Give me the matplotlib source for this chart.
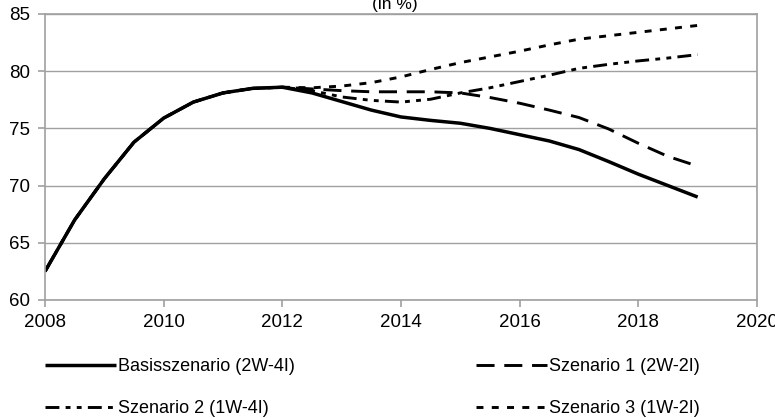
import matplotlib
matplotlib.use("Agg")
import matplotlib.pyplot as plt

plt.rcParams['font.family'] = ['Liberation Sans', 'DejaVu Sans']
plt.rcParams['lines.scale_dashes'] = False

# Daten (in %), halbjaehrlich
jahre = [2008.0, 2008.5, 2009.0, 2009.5, 2010.0, 2010.5, 2011.0, 2011.5,
         2012.0, 2012.5, 2013.0, 2013.5, 2014.0, 2014.5, 2015.0, 2015.5,
         2016.0, 2016.5, 2017.0, 2017.5, 2018.0, 2018.5, 2019.0]
gemeinsam = [62.5, 67.0, 70.6, 73.8, 75.9, 77.3, 78.1, 78.5, 78.6]
basis = gemeinsam + [78.1, 77.35, 76.6, 76.0, 75.7, 75.45, 75.0,
                     74.45, 73.9, 73.15, 72.1, 71.0, 70.0, 69.0]
szenario1 = gemeinsam + [78.45, 78.3, 78.2, 78.2, 78.2, 78.1, 77.7,
                         77.2, 76.6, 75.95, 74.95, 73.7, 72.55, 71.7]
szenario2 = gemeinsam + [78.3, 77.75, 77.45, 77.3, 77.55, 78.1, 78.55,
                         79.1, 79.65, 80.25, 80.6, 80.9, 81.15, 81.45]
szenario3 = gemeinsam + [78.55, 78.7, 79.0, 79.5, 80.15, 80.75, 81.25,
                         81.75, 82.3, 82.8, 83.1, 83.4, 83.7, 84.0]

namen = ["Basisszenario (2W-4I)", "Szenario 1 (2W-2I)",
         "Szenario 2 (1W-4I)", "Szenario 3 (1W-2I)"]

titel = "(in %)"
x_ticks = [2008, 2010, 2012, 2014, 2016, 2018, 2020]
y_ticks = [60, 65, 70, 75, 80, 85]

fig = plt.figure(figsize=(7.75, 4.18), dpi=100)
ax = fig.add_axes([45 / 775, 1 - 300 / 418, 712 / 775, 286 / 418])

grau = '#a0a0a0'
l0, = ax.plot(jahre, basis, color='black', lw=2.5, solid_capstyle='butt')
l1, = ax.plot(jahre, szenario1, color='black', lw=2.1, dashes=(13, 7))
l2, = ax.plot(jahre, szenario2, color='black', lw=2.1, dashes=(10, 4.5, 3.5, 4.5, 3.5, 4.5))
l3, = ax.plot(jahre, szenario3, color='black', lw=2.1, dashes=(5, 6))

ax.set_xlim(2008, 2020)
ax.set_ylim(60, 85)
ax.set_xticks(x_ticks)
ax.set_yticks(y_ticks)
ax.yaxis.grid(True, color=grau, lw=1)
ax.set_axisbelow(True)
for s in ax.spines.values():
    s.set_color(grau)
    s.set_linewidth(1.2)
ax.tick_params(axis='both', colors=grau, labelcolor='black', labelsize=13.5,
               length=5, width=1.2, direction='out')
ax.tick_params(axis='x', pad=5)
ax.tick_params(axis='y', pad=6)

fig.text(395 / 775, 1 - 9 / 418, titel, ha='center', va='baseline', fontsize=12.5)

fig.legend([l0, l2, l1, l3], [namen[0], namen[2], namen[1], namen[3]],
           ncol=2, loc='upper left', bbox_to_anchor=(45 / 775, 1 - 358 / 418),
           frameon=False, fontsize=13, handlelength=3.95, handletextpad=0.1,
           columnspacing=10.0, labelspacing=1.38, borderpad=0, borderaxespad=0)

fig.savefig('out.png', dpi=100)
